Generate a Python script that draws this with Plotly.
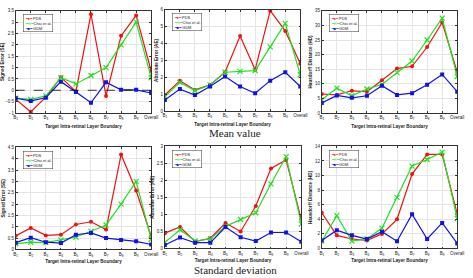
import plotly.graph_objects as go

# ---------------- data ----------------
categories = ["B<sub>1</sub>", "B<sub>2</sub>", "B<sub>3</sub>", "B<sub>4</sub>", "B<sub>5</sub>",
              "B<sub>6</sub>", "B<sub>7</sub>", "B<sub>8</sub>", "B<sub>9</sub>", "Overall"]
series_names = ["PDS", "Chiu et al.", "GDM"]

# Mean value
se_mean_pds = [-0.40, -0.95, -0.30, 0.57, -0.05, 3.35, -0.25, 2.40, 3.30, 0.85]
se_mean_chiu = [-0.35, -0.40, -0.25, 0.55, 0.28, 0.65, 1.00, 2.00, 3.00, 0.55]
se_mean_gdm = [-0.35, -0.47, -0.33, 0.38, -0.08, -0.55, 0.35, 0.02, 0.02, -0.12]

ae_mean_pds = [0.95, 1.80, 1.25, 1.55, 2.30, 4.45, 2.45, 5.95, 4.75, 2.80]
ae_mean_chiu = [0.85, 1.70, 1.20, 1.55, 2.30, 2.35, 2.40, 3.80, 5.20, 2.15]
ae_mean_gdm = [0.65, 1.30, 0.95, 1.45, 2.05, 1.45, 1.05, 1.80, 2.30, 1.45]

hd_mean_pds = [6.5, 6.2, 7.6, 7.3, 11.2, 15.2, 16.0, 22.6, 31.0, 14.0]
hd_mean_chiu = [4.5, 8.5, 5.9, 8.2, 9.8, 13.8, 17.8, 25.0, 32.5, 12.5]
hd_mean_gdm = [3.4, 6.0, 5.2, 5.9, 9.3, 6.2, 6.8, 9.7, 13.2, 7.3]

# Standard deviation
se_std_pds = [0.60, 0.95, 0.62, 0.65, 1.10, 1.22, 0.88, 4.18, 2.60, 0.58]
se_std_chiu = [0.25, 0.32, 0.30, 0.42, 0.55, 0.80, 1.08, 2.00, 3.00, 0.45]
se_std_gdm = [0.30, 0.52, 0.32, 0.28, 0.65, 0.73, 0.50, 0.42, 0.36, 0.22]

ae_std_pds = [0.45, 0.63, 0.20, 0.30, 0.75, 0.50, 1.25, 2.35, 2.60, 0.85]
ae_std_chiu = [0.18, 0.55, 0.22, 0.28, 0.65, 0.85, 1.05, 1.90, 2.70, 0.72]
ae_std_gdm = [0.10, 0.32, 0.17, 0.17, 0.63, 0.33, 0.22, 0.47, 0.47, 0.20]

hd_std_pds = [4.9, 1.8, 1.3, 1.1, 2.0, 4.0, 10.2, 12.9, 12.9, 4.7]
hd_std_chiu = [1.0, 4.5, 1.0, 1.3, 2.8, 7.0, 11.3, 12.2, 13.2, 4.1]
hd_std_gdm = [1.1, 2.5, 1.8, 1.3, 2.3, 1.0, 4.7, 1.3, 3.5, 0.7]

y_titles = ["Signed Error (SE)", "Absolute Error (AE)", "Hausdorff Distance (HD)"]
x_title = "Target Intra-retinal Layer Boundary"
captions = ["Mean value", "Standard deviation"]

panels = [
    (se_mean_pds, se_mean_chiu, se_mean_gdm, y_titles[0], (-1, 3.5), 0.5),
    (ae_mean_pds, ae_mean_chiu, ae_mean_gdm, y_titles[1], (0, 6), 1),
    (hd_mean_pds, hd_mean_chiu, hd_mean_gdm, y_titles[2], (0, 35), 5),
    (se_std_pds, se_std_chiu, se_std_gdm, y_titles[0], (0, 4.5), 0.5),
    (ae_std_pds, ae_std_chiu, ae_std_gdm, y_titles[1], (0, 3), 0.5),
    (hd_std_pds, hd_std_chiu, hd_std_gdm, y_titles[2], (0, 14), 2),
]

# ---------------- styling / layout ----------------
W, H = 473, 278
colors = ["#ee1111", "#22e022", "#1111e8"]
symbols = ["circle", "x-thin-open", "square"]
legend_syms = ["●", "✕", "■"]
# pixel boxes: (left, right, top, bottom)
boxes = [(11, 150, 9, 113), (164, 303, 8, 111), (325, 464, 9, 113),
         (11, 150, 148, 252), (164, 304, 147, 251), (325, 464, 147, 251)]
FONT = "Liberation Sans, Arial, sans-serif"

fig = go.Figure()
xvals = list(range(1, len(categories) + 1))

for i, (p, c, g, ytitle, yr, dt) in enumerate(panels):
    k = "" if i == 0 else str(i + 1)
    for j, (vals, name) in enumerate(zip((p, c, g), series_names)):
        fig.add_trace(go.Scatter(
            x=xvals, y=vals, name=name, mode="lines+markers",
            xaxis="x" + k, yaxis="y" + k, showlegend=False,
            line=dict(color=colors[j], width=1.2),
            marker=dict(symbol=symbols[j], size=4 if j != 1 else 5, color=colors[j],
                        line=dict(color=colors[j], width=1.2 if j == 1 else 0)),
        ))
    l, r, t, b = boxes[i]
    xd = [l / W, r / W]
    yd = [1 - b / H, 1 - t / H]
    axcommon = dict(showline=True, linecolor="#333", linewidth=0.6, mirror="ticks",
                    ticks="inside", ticklen=2, tickwidth=0.5, tickcolor="#333",
                    showgrid=True, gridcolor="#e4e4e4", gridwidth=0.5, zeroline=False,
                    tickfont=dict(size=4.5, family=FONT, color="#222"))
    fig.update_layout(**{
        "xaxis" + k: dict(domain=xd, anchor="y" + k, range=[1, len(categories)],
                          tickvals=xvals, ticktext=categories,
                          title=dict(text="<b>" + x_title + "</b>", standoff=4 if i < 3 else 3,
                                     font=dict(size=4.6, family=FONT, color="#222")),
                          **axcommon),
        "yaxis" + k: dict(domain=yd, anchor="x" + k, range=list(yr), dtick=dt,
                          title=dict(text="<b>" + ytitle + "</b>", standoff=2,
                                     font=dict(size=4.6, family=FONT, color="#222")),
                          **axcommon),
    })
    # legend box (text annotation)
    lines = ["<span style='color:%s'>━%s━</span> %s" % (colors[j], legend_syms[j], series_names[j])
             for j in range(3)]
    fig.add_annotation(xref="paper", yref="paper", x=(l + 7) / W, y=1 - (t + 3.5) / H,
                       xanchor="left", yanchor="top", align="left", showarrow=False,
                       text="<br>".join(lines), bgcolor="white", bordercolor="#333",
                       borderwidth=0.5, borderpad=1,
                       font=dict(size=4, family=FONT, color="#222"))

# zero reference line in first panel
fig.add_shape(type="line", xref="x domain", yref="y", x0=0, x1=1, y0=0, y1=0,
              line=dict(color="black", width=0.8, dash="dash"))

# captions
fig.add_annotation(xref="paper", yref="paper", x=236 / W, y=1 - 133 / H, showarrow=False,
                   xanchor="center", yanchor="middle",
                   text=captions[0], font=dict(size=11, family="Liberation Serif, serif", color="#222"))
fig.add_annotation(xref="paper", yref="paper", x=236 / W, y=1 - 272.5 / H, showarrow=False,
                   xanchor="center", yanchor="middle",
                   text=captions[1], font=dict(size=11, family="Liberation Serif, serif", color="#222"))

fig.update_layout(width=W, height=H, margin=dict(l=0, r=0, t=0, b=0),
                  paper_bgcolor="white", plot_bgcolor="white",
                  font=dict(family=FONT))

fig.write_html("out.html")
